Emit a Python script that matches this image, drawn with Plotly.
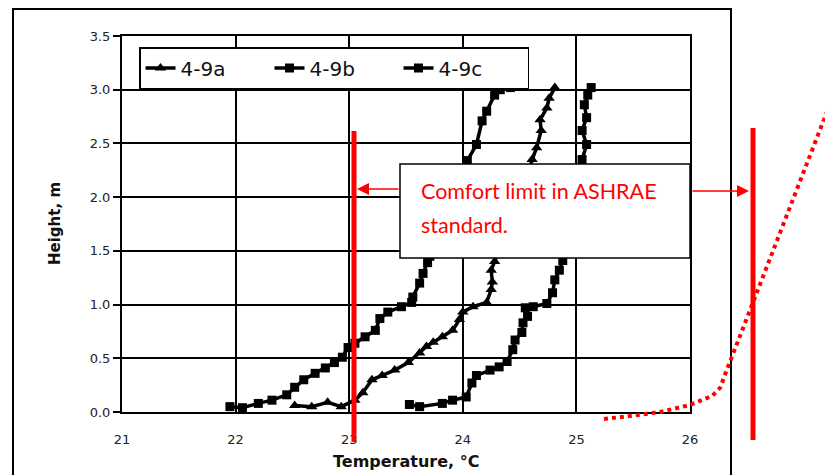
import plotly.graph_objects as go

# ---------------- data ----------------
series_names = ["4-9a", "4-9b", "4-9c"]

temp_a = [22.52, 22.67, 22.81, 22.93, 23.05, 23.12, 23.20, 23.29, 23.40, 23.52, 23.62,
          23.68, 23.74, 23.82, 23.91, 23.97, 24.00, 24.09, 24.21, 24.25, 24.26, 24.25,
          24.28, 24.35, 24.45, 24.55, 24.61, 24.65, 24.69, 24.68, 24.74, 24.76, 24.81]
height_a = [0.06, 0.05, 0.09, 0.05, 0.11, 0.18, 0.30, 0.34, 0.39, 0.46, 0.55,
            0.61, 0.65, 0.70, 0.76, 0.86, 0.93, 0.98, 1.02, 1.14, 1.21, 1.32,
            1.40, 1.60, 1.85, 2.10, 2.35, 2.46, 2.62, 2.72, 2.83, 2.92, 3.02]

temp_b = [21.95, 22.06, 22.20, 22.32, 22.45, 22.52, 22.60, 22.70, 22.79, 22.87, 22.94,
          22.99, 23.05, 23.14, 23.23, 23.27, 23.34, 23.46, 23.55, 23.56, 23.62, 23.65,
          23.69, 23.71, 23.85, 23.95, 24.00, 24.04, 24.12, 24.17, 24.21, 24.28, 24.33, 24.42]
height_b = [0.05, 0.04, 0.08, 0.11, 0.16, 0.23, 0.30, 0.36, 0.41, 0.46, 0.51,
            0.60, 0.64, 0.70, 0.76, 0.87, 0.93, 0.98, 1.02, 1.07, 1.20, 1.29,
            1.39, 1.45, 1.70, 1.90, 2.10, 2.34, 2.49, 2.71, 2.80, 2.95, 3.00, 3.02]

temp_c = [23.53, 23.62, 23.82, 23.91, 24.03, 24.08, 24.12, 24.24, 24.32, 24.39, 24.44,
          24.46, 24.52, 24.53, 24.57, 24.55, 24.62, 24.74, 24.79, 24.81, 24.85, 24.88,
          24.95, 25.00, 25.03, 25.05, 25.09, 25.05, 25.09, 25.07, 25.10, 25.13]
height_c = [0.07, 0.05, 0.08, 0.11, 0.14, 0.27, 0.34, 0.39, 0.42, 0.47, 0.58,
            0.67, 0.74, 0.83, 0.89, 0.97, 0.98, 1.01, 1.11, 1.23, 1.32, 1.41,
            1.60, 1.85, 2.10, 2.35, 2.49, 2.62, 2.74, 2.86, 2.95, 3.02]

x_ticks = [21, 22, 23, 24, 25, 26]
y_ticks = [0.0, 0.5, 1.0, 1.5, 2.0, 2.5, 3.0, 3.5]

note_line1 = "Comfort limit in ASHRAE"
note_line2 = "standard."

# ---------------- layout helpers (pixel -> paper) ----------------
W, H = 825, 475
L, R, T, B = 122, 690, 36, 412


def px(xp):
    return (xp - L) / (R - L)


def py(yp):
    return (B - yp) / (B - T)


fig = go.Figure()
fig.add_trace(go.Scatter(x=temp_a, y=height_a, name=series_names[0], mode="lines+markers",
                         line=dict(color="black", width=3.5),
                         marker=dict(symbol="triangle-up", size=10, color="black")))
fig.add_trace(go.Scatter(x=temp_b, y=height_b, name=series_names[1], mode="lines+markers",
                         line=dict(color="black", width=3.5),
                         marker=dict(symbol="square", size=9, color="black")))
fig.add_trace(go.Scatter(x=temp_c, y=height_c, name=series_names[2], mode="lines+markers",
                         line=dict(color="black", width=3.5),
                         marker=dict(symbol="square", size=9, color="black")))

tick_font = dict(family="DejaVu Sans", size=13, color="#222")

fig.update_layout(
    width=W, height=H,
    margin=dict(l=L, r=W - R, t=T, b=H - B),
    paper_bgcolor="white", plot_bgcolor="white",
    showlegend=True,
    legend=dict(orientation="h", x=px(139), y=py(47), xanchor="left", yanchor="top",
                bgcolor="white", bordercolor="black", borderwidth=1.5,
                font=dict(family="DejaVu Sans", size=20, color="#111"),
                entrywidth=84, entrywidthmode="pixels", tracegroupgap=0),
    xaxis=dict(range=[21, 26], tickvals=x_ticks, ticktext=[str(v) for v in x_ticks],
               showgrid=True, gridcolor="black", gridwidth=1.5,
               showline=True, linecolor="black", linewidth=2, mirror=True,
               ticks="", ticklabelstandoff=14, tickfont=tick_font, zeroline=False),
    yaxis=dict(range=[0, 3.5], tickvals=y_ticks, ticktext=[f"{v:.1f}" for v in y_ticks],
               showgrid=True, gridcolor="black", gridwidth=1.5,
               showline=True, linecolor="black", linewidth=2, mirror=True,
               ticks="outside", ticklen=7, tickwidth=1.5, tickcolor="black",
               tickfont=tick_font, zeroline=False),
)

shapes = [
    # outer frame
    dict(type="rect", xref="paper", yref="paper", x0=px(13), x1=px(731), y0=py(9), y1=py(490),
         line=dict(color="black", width=2), layer="below"),
    # comfort limit red lines
    dict(type="line", xref="paper", yref="paper", x0=px(354), x1=px(354), y0=py(131), y1=py(442),
         line=dict(color="red", width=5), layer="above"),
    dict(type="line", xref="paper", yref="paper", x0=px(753), x1=px(753), y0=py(128), y1=py(440),
         line=dict(color="red", width=5), layer="above"),
    # note box
    dict(type="rect", xref="paper", yref="paper", x0=px(400), x1=px(690), y0=py(164), y1=py(258),
         fillcolor="white", line=dict(color="black", width=1.5), layer="above"),
]
dot_pts = [(604, 419), (630, 416), (660, 412), (690, 405), (712, 396), (720, 388), (726, 372), (830, 104)]
path = "M " + " L ".join(f"{px(a):.5f},{py(b):.5f}" for a, b in dot_pts)
shapes.append(dict(type="path", xref="paper", yref="paper", path=path,
                   line=dict(color="red", width=4, dash="dot"), layer="above"))
fig.update_layout(shapes=shapes)

annots = [
    dict(text="Temperature, °C", xref="paper", yref="paper", x=px(406), y=py(461),
         xanchor="center", yanchor="middle",
         showarrow=False, font=dict(family="DejaVu Sans", size=16, color="#111", weight="bold")),
    dict(text="Height, m", xref="paper", yref="paper", x=px(55), y=py(224), textangle=-90,
         xanchor="center", yanchor="middle",
         showarrow=False, font=dict(family="DejaVu Sans", size=15, color="#111", weight="bold")),
    dict(text=note_line1, xref="paper", yref="paper", x=px(419), y=py(191), xanchor="left",
         yanchor="middle",
         showarrow=False, font=dict(family="Lato", size=21.5, color="red")),
    dict(text=note_line2, xref="paper", yref="paper", x=px(419), y=py(225), xanchor="left",
         yanchor="middle",
         showarrow=False, font=dict(family="Lato", size=21.5, color="red")),
    dict(text="", xref="paper", yref="paper", x=px(357), y=py(189), ax=43, ay=0,
         showarrow=True, arrowhead=2, arrowsize=1.6, arrowwidth=1.5, arrowcolor="red"),
    dict(text="", xref="paper", yref="paper", x=px(749), y=py(191), ax=-58, ay=0,
         showarrow=True, arrowhead=2, arrowsize=1.6, arrowwidth=1.5, arrowcolor="red"),
]
fig.update_layout(annotations=annots)

fig.write_html("out.html")
